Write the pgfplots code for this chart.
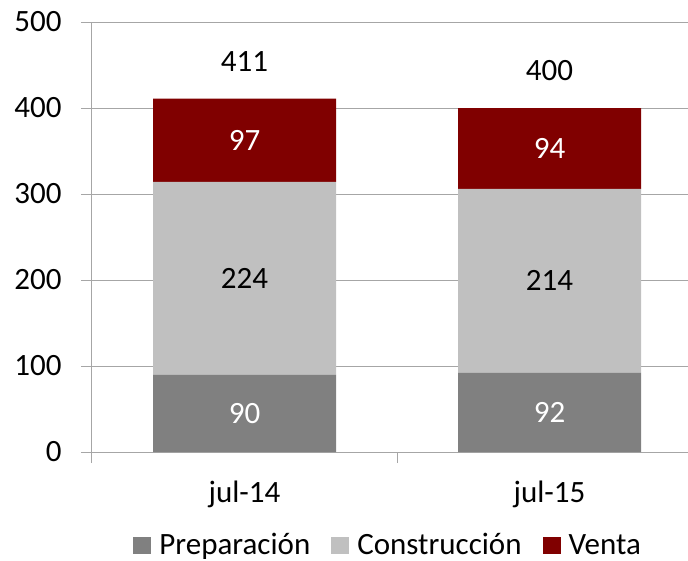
\documentclass[border=0pt]{standalone}
\usepackage{fontspec}
\setmainfont{Carlito}
\usepackage{pgfplots}
\pgfplotsset{compat=1.18}
\usetikzlibrary{calc}

\definecolor{prep}{HTML}{808080}
\definecolor{cons}{HTML}{C0C0C0}
\definecolor{vent}{HTML}{800000}
\definecolor{axgray}{HTML}{A6A6A6}
\newcommand{\chartfont}{\fontsize{31}{37}\selectfont}

\pgfplotsset{
    frame/.style={scale only axis, width=596pt, height=430pt,
        xmin=-0.5, xmax=1.454, ymin=0, ymax=500},
}

\begin{document}
\begin{tikzpicture}
\begin{axis}[
    frame,
    ybar stacked,
    bar width=0.6,
    axis x line*=bottom,
    axis y line*=left,
    axis line style={draw=axgray, line width=1pt},
    ytick={0,100,...,500},
    ymajorgrids,
    grid style={draw=axgray, line width=1pt},
    tick align=outside,
    major tick length=11pt,
    tick style={draw=axgray, line width=1pt},
    xtick={-0.5,0.5},
    xticklabels={},
    extra x ticks={0,1},
    extra x tick labels={jul-14,jul-15},
    extra x tick style={major tick length=0pt},
    ticklabel style={font=\chartfont},
    yticklabel style={xshift=-16pt},
    xticklabel style={yshift=-25pt},
    /pgf/number format/assume math mode=true,
    legend style={draw=none, at={(0.497,-0.216)}, anchor=center,
        legend columns=-1, font=\chartfont, inner sep=0pt,
        /tikz/every odd column/.append style={column sep=6pt},
        /tikz/every even column/.append style={column sep=19pt}},
    legend image code/.code={\fill[#1,draw=none] (0pt,-9pt) rectangle (18pt,8pt);},
]
\addplot[fill=prep, draw=none] coordinates {(0,90) (1,92)};
\addlegendentry{Preparación}
\addplot[fill=cons, draw=none] coordinates {(0,224) (1,214)};
\addlegendentry{Construcción}
\addplot[fill=vent, draw=none] coordinates {(0,97) (1,94)};
\addlegendentry{Venta}
\coordinate (sw) at (rel axis cs:0,0);
\end{axis}

% value labels: segment midpoints and totals
\begin{axis}[
    frame, hide axis,
    nodes near coords,
    point meta=explicit symbolic,
    nodes near coords align={center},
    every node near coord/.append style={font=\chartfont, anchor=center},
]
\addplot[draw=none, mark=none, every node near coord/.append style={text=white}]
    coordinates {(0,45) [90] (1,46) [92]};
\addplot[draw=none, mark=none, every node near coord/.append style={text=black}]
    coordinates {(0,202) [224] (1,199) [214]};
\addplot[draw=none, mark=none, every node near coord/.append style={text=white}]
    coordinates {(0,362.5) [97] (1,353) [94]};
\addplot[draw=none, mark=none, every node near coord/.append style={text=black, yshift=37pt}]
    coordinates {(0,411) [411] (1,400) [400]};
\end{axis}

\pgfresetboundingbox
\path ($(sw)+(-92pt,-108pt)$) rectangle ($(sw)+(596pt,452pt)$);
\end{tikzpicture}
\end{document}
